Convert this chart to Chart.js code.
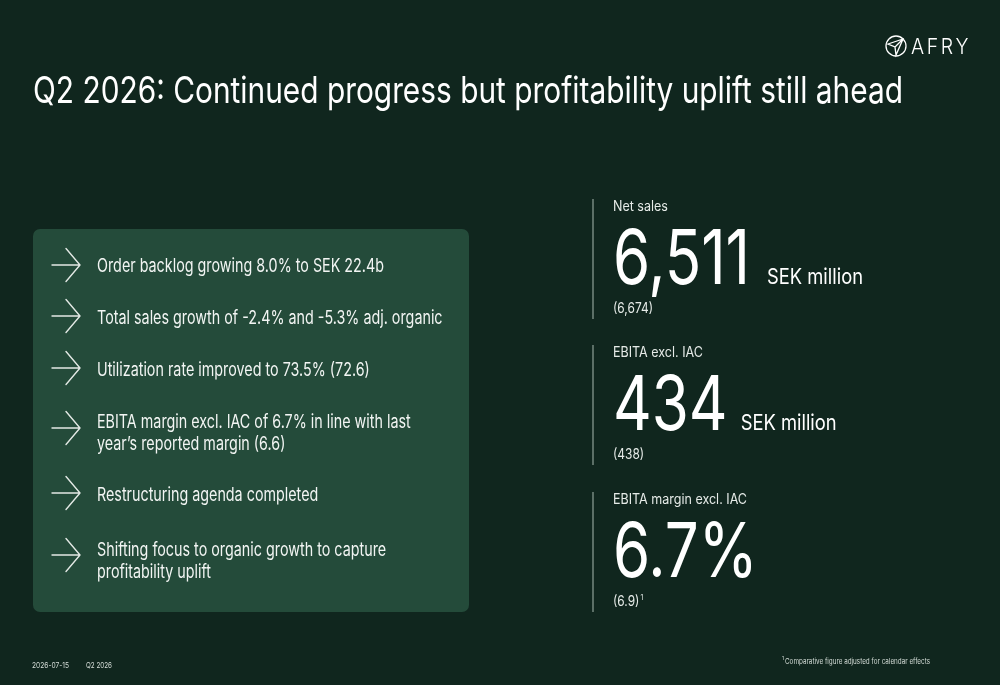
<!DOCTYPE html>
<html>
<head>
<meta charset="utf-8">
<title>Q2 2026</title>
<script src="https://cdn.jsdelivr.net/npm/chart.js@4/dist/chart.umd.min.js"></script>
<style>
  html, body { margin: 0; padding: 0; background: #10261e; }
  #slide { display: block; }
</style>
</head>
<body>
<canvas id="slide" width="1000" height="685"></canvas>
<script>
// Texte de la diapositive
const title = 'Q2 2026: Continued progress but profitability uplift still ahead';
const bulletLines = [
    ['Order backlog growing 8.0% to SEK 22.4b'],
    ['Total sales growth of -2.4% and -5.3% adj. organic'],
    ['Utilization rate improved to 73.5% (72.6)'],
    ['EBITA margin excl. IAC of 6.7% in line with last', 'year\u2019s reported margin (6.6)'],
    ['Restructuring agenda completed'],
    ['Shifting focus to organic growth to capture', 'profitability uplift']
];
const kpiLabels = ['Net sales', 'EBITA excl. IAC', 'EBITA margin excl. IAC'];
const kpiValues = ['6,511', '434', '6.7%'];
const kpiUnits = ['SEK million', 'SEK million', ''];
const kpiPrior = ['(6,674)', '(438)', '(6.9)'];
const kpiPriorNote = ['', '', '1'];
const footerDate = '2026-07-15';
const footerPeriod = 'Q2 2026';
const footnote = 'Comparative figure adjusted for calendar effects';

// Mise en page
const bulletBaselines = [272, 324, 376, 428, 501, 556];
const arrowCenters = [265, 316, 368, 428, 493, 555];
const kpiTops = [199, 345, 492];

const FONT = 'Inter, "Noto Sans", sans-serif';

function fitScale(ctx, text, font, width) {
    ctx.font = font;
    return width / ctx.measureText(text).width;
}

function drawText(ctx, text, x, y, font, color, sx) {
    ctx.save();
    ctx.font = font;
    ctx.fillStyle = color;
    ctx.textBaseline = 'alphabetic';
    ctx.translate(x, y);
    ctx.scale(sx, 1);
    ctx.fillText(text, 0, 0);
    const w = ctx.measureText(text).width * sx;
    ctx.restore();
    return w;
}

function drawArrow(ctx, cy) {
    ctx.save();
    ctx.strokeStyle = '#e3e9e5';
    ctx.lineWidth = 1.4;
    ctx.lineCap = 'round';
    ctx.beginPath();
    ctx.moveTo(52, cy);
    ctx.lineTo(80, cy);
    ctx.moveTo(66, cy - 16.5);
    ctx.lineTo(80, cy);
    ctx.lineTo(66, cy + 16.5);
    ctx.stroke();
    ctx.restore();
}

function roundRect(ctx, x, y, w, h, r) {
    ctx.beginPath();
    ctx.moveTo(x + r, y);
    ctx.arcTo(x + w, y, x + w, y + h, r);
    ctx.arcTo(x + w, y + h, x, y + h, r);
    ctx.arcTo(x, y + h, x, y, r);
    ctx.arcTo(x, y, x + w, y, r);
    ctx.closePath();
}

const slidePlugin = {
    id: 'slide',
    beforeDraw(chart) {
        const ctx = chart.ctx;
        ctx.save();
        ctx.fillStyle = '#10261e';
        ctx.fillRect(0, 0, chart.width, chart.height);
        ctx.restore();
    },
    afterDraw(chart) {
        const ctx = chart.ctx;

        // Logo
        ctx.save();
        ctx.strokeStyle = '#ffffff';
        ctx.lineWidth = 1.3;
        ctx.beginPath();
        ctx.arc(896, 46, 10, 0, Math.PI * 2);
        ctx.stroke();
        ctx.beginPath();
        ctx.moveTo(888, 44);
        ctx.lineTo(903, 39);
        ctx.lineTo(896, 55);
        ctx.lineTo(895, 47);
        ctx.closePath();
        ctx.moveTo(895, 47);
        ctx.lineTo(903, 39);
        ctx.stroke();
        ctx.restore();
        ctx.save();
        ctx.letterSpacing = '3px';
        ctx.font = '300 22px ' + FONT;
        ctx.fillStyle = '#ffffff';
        const logoW = ctx.measureText('AFRY').width;
        ctx.translate(911, 54);
        ctx.scale(60 / logoW, 1);
        ctx.fillText('AFRY', 0, 0);
        ctx.restore();

        // Titre
        const titleFont = '400 37px ' + FONT;
        drawText(ctx, title, 33, 103, titleFont, '#ffffff', fitScale(ctx, title, titleFont, 870));

        // Encadré
        ctx.save();
        ctx.fillStyle = '#244b3a';
        roundRect(ctx, 33, 229, 436, 383, 7);
        ctx.fill();
        ctx.restore();

        const bulletFont = '400 18.5px ' + FONT;
        const bsx = fitScale(ctx, bulletLines[0][0], bulletFont, 287);
        bulletLines.forEach((lines, i) => {
            drawArrow(ctx, arrowCenters[i]);
            lines.forEach((line, j) => {
                drawText(ctx, line, 97, bulletBaselines[i] + j * 21.5, bulletFont, '#f2f5f3', bsx);
            });
        });

        // Indicateurs
        const labelFont = '400 14px ' + FONT;
        const bigFont = '400 75px ' + FONT;
        const unitFont = '400 22px ' + FONT;
        const priorFont = '400 14px ' + FONT;
        const lsx = fitScale(ctx, kpiLabels[2], labelFont, 134);
        const gsx = fitScale(ctx, kpiValues[0], bigFont, 137);
        const usx = fitScale(ctx, kpiUnits[0], unitFont, 96);
        const psx = fitScale(ctx, kpiPrior[0], priorFont, 40);
        const unitGap = [17, 13, 0];
        kpiTops.forEach((top, i) => {
            ctx.save();
            ctx.strokeStyle = '#8fa198';
            ctx.lineWidth = 1.2;
            ctx.beginPath();
            ctx.moveTo(593, top);
            ctx.lineTo(593, top + 120);
            ctx.stroke();
            ctx.restore();

            drawText(ctx, kpiLabels[i], 613, top + 12, labelFont, '#e6ebe8', lsx);
            const w = drawText(ctx, kpiValues[i], 613, top + 85, bigFont, '#ffffff', gsx);
            if (kpiUnits[i]) {
                drawText(ctx, kpiUnits[i], 613 + w + unitGap[i], top + 85, unitFont, '#ffffff', usx);
            }
            const pw = drawText(ctx, kpiPrior[i], 613, top + 114, priorFont, '#e6ebe8', psx);
            if (kpiPriorNote[i]) {
                drawText(ctx, kpiPriorNote[i], 613 + pw + 1, top + 108, '400 8px ' + FONT, '#e6ebe8', psx);
            }
        });

        // Pied de page
        const footFont = '400 8px ' + FONT;
        drawText(ctx, footerDate, 32, 668, footFont, '#d5ddd8', fitScale(ctx, footerDate, footFont, 37));
        drawText(ctx, footerPeriod, 86, 668, footFont, '#d5ddd8', fitScale(ctx, footerPeriod, footFont, 26));
        drawText(ctx, '1', 782, 660, '400 5px ' + FONT, '#d5ddd8', 1);
        drawText(ctx, footnote, 785, 664, '400 7.5px ' + FONT, '#d5ddd8', fitScale(ctx, footnote, '400 7.5px ' + FONT, 145));
    }
};

document.addEventListener('DOMContentLoaded', function() {
    const canvas = document.getElementById('slide');
    new Chart(canvas, {
        type: 'bar',
        data: {
            labels: [],
            datasets: []
        },
        options: {
            responsive: false,
            animation: false,
            events: [],
            plugins: {
                legend: { display: false },
                tooltip: { enabled: false }
            },
            scales: {
                x: { display: false },
                y: { display: false }
            }
        },
        plugins: [slidePlugin]
    });
});
</script>
</body>
</html>
